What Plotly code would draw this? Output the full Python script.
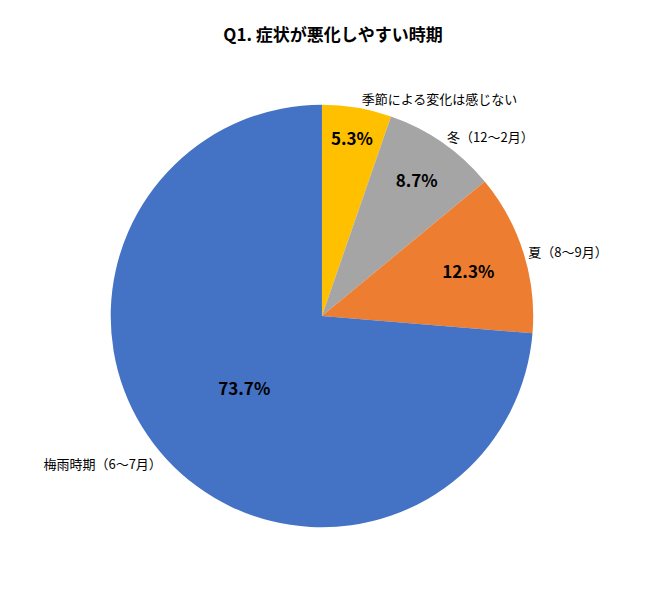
import plotly.graph_objects as go

labels = ["季節による変化は感じない", "冬（12〜2月）", "夏（8〜9月）", "梅雨時期（6〜7月）"]
values = [5.3, 8.7, 12.3, 73.7]
colors = ["#FFC000", "#A5A5A5", "#ED7D31", "#4472C4"]

font = "Noto Sans CJK JP"
dom = dict(x=[0.158, 0.808], y=[0.112, 0.842])
fig = go.Figure()
fig.add_trace(go.Pie(labels=labels, values=values, sort=False, direction="clockwise", rotation=0,
                     marker=dict(colors=colors), textinfo="percent", texttemplate="%{value:.1f}%",
                     textposition="inside", insidetextorientation="horizontal",
                     textfont=dict(size=17, color="black", family=font, weight="bold"),
                     showlegend=False, domain=dom, hoverinfo="skip"))
fig.add_trace(go.Pie(labels=labels, values=values, sort=False, direction="clockwise", rotation=0,
                     marker=dict(colors=["rgba(0,0,0,0)"] * 4), textinfo="label",
                     textposition="outside", automargin=False,
                     textfont=dict(size=13, color="black", family=font),
                     showlegend=False, domain=dom, hoverinfo="skip"))
fig.update_layout(width=650, height=589, paper_bgcolor="white", margin=dict(l=0, r=0, t=0, b=0),
                  title=dict(text="<b>Q1. 症状が悪化しやすい時期</b>", x=0.5, y=0.965,
                             font=dict(size=17, family=font, color="black")))
fig.write_html("out.html")
